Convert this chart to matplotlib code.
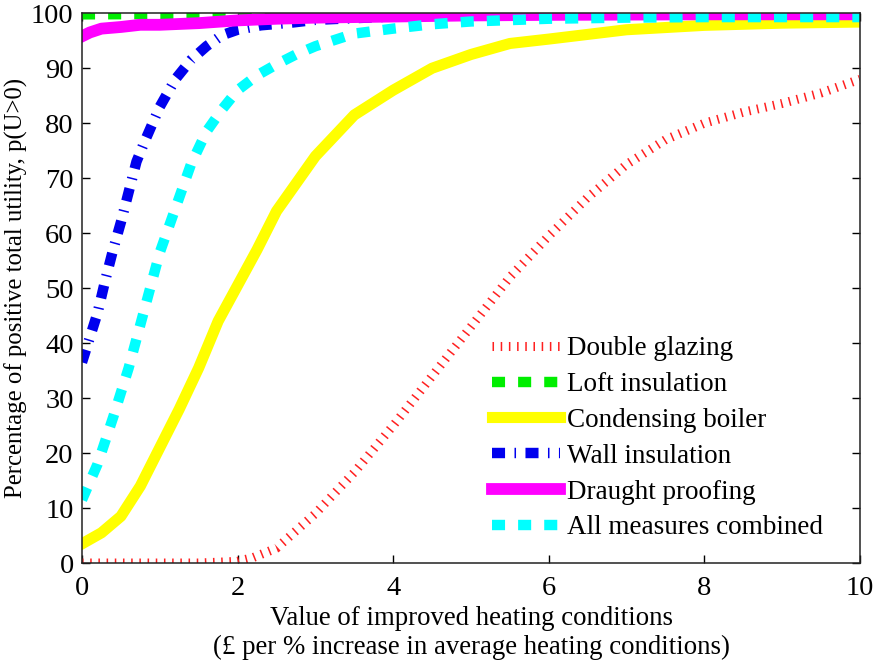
import numpy as np
import matplotlib
matplotlib.use("Agg")
import matplotlib.pyplot as plt

# fraction of households with positive total utility (%), per measure
dg_x = [0, 0.5, 1.0, 1.5, 2.0, 2.2, 2.5, 3.0, 3.5, 4.0, 4.5, 5.0, 5.5,
        6.0, 6.5, 7.0, 7.5, 8.0, 8.5, 9.0, 9.5, 10]
dg_y = [0, 0, 0, 0, 0.3, 1.0, 2.7, 9, 16.5, 25, 34, 43, 52,
        59.5, 66.5, 72.5, 77, 80, 82, 83.6, 85.5, 88]

loft_x = [0, 2, 4, 6, 8, 10]
loft_y = [99.8, 99.9, 99.9, 99.9, 99.9, 99.9]

boiler_x = [0, 0.25, 0.5, 0.75, 1.0, 1.25, 1.5, 1.75, 2.0, 2.25, 2.5, 2.75,
            3.0, 3.5, 4.0, 4.5, 5.0, 5.5, 6.0, 7.0, 8.0, 9.0, 10]
boiler_y = [3.5, 5.5, 8.5, 14, 21, 28, 35.5, 44, 50.5, 57, 64, 69,
            74, 81.5, 86, 90, 92.5, 94.5, 95.3, 97, 97.8, 98.2, 98.4]

wall_x = [0, 0.1, 0.2, 0.3, 0.4, 0.5, 0.6, 0.7, 0.8, 1.0, 1.2, 1.4, 1.6,
          1.8, 2.0, 2.3, 2.7, 3.0, 4.0, 5.0, 6.0, 8.0, 10]
wall_y = [36.5, 41, 45.5, 51.5, 57, 62, 67.5, 73, 76.5, 83, 88, 91.5, 94,
          96, 97, 97.8, 98.3, 98.8, 99.4, 99.7, 99.9, 100, 100]

draught_x = [0, 0.1, 0.25, 0.5, 0.75, 1, 1.5, 2, 2.5, 3, 4, 5, 6, 8, 10]
draught_y = [95.8, 96.5, 97.2, 97.5, 97.9, 97.9, 98.2, 98.7, 99.0, 99.2,
             99.4, 99.6, 99.7, 99.8, 99.8]

all_x = [0, 0.2, 0.4, 0.6, 0.8, 1.0, 1.2, 1.4, 1.6, 1.8, 2.0, 2.25, 2.5,
         2.75, 3.0, 3.5, 4.0, 4.5, 5.0, 6, 7, 8, 10]
all_y = [11.5, 18, 26.5, 35.5, 46, 56.5, 64.5, 72.5, 78.5, 82.5, 86, 88.7,
         90.7, 92.5, 94, 96.3, 97.2, 98, 98.5, 99, 99.2, 99.3, 99.3]

labels = ["Double glazing", "Loft insulation", "Condensing boiler",
          "Wall insulation", "Draught proofing", "All measures combined"]
x_ticks = [0, 2, 4, 6, 8, 10]
y_ticks = list(range(0, 101, 10))

plt.rcParams['font.family'] = ['Liberation Serif', 'DejaVu Serif']
plt.rcParams['lines.scale_dashes'] = False

fig = plt.figure(figsize=(8.78, 6.62), dpi=100)
ax = fig.add_axes([0.0934, 0.1495, 0.8861, 0.8305])

ax.plot(dg_x, dg_y, color='#ff2020', lw=6.5, dashes=(1.1, 4.8),
        dash_capstyle='butt', label=labels[0])
ax.plot(loft_x, loft_y, color='#00ee00', lw=7.5, dashes=(9.4, 9.4),
        dash_capstyle='butt', label=labels[1])
ax.plot(boiler_x, boiler_y, color='#ffff00', lw=8, label=labels[2])
ax.plot(wall_x, wall_y, color='#0000ee', lw=7.5, dashes=(9.4, 6.8, 1.1, 6.8),
        dash_capstyle='butt', label=labels[3])
ax.plot(draught_x, draught_y, color='#ff00ff', lw=8.5, label=labels[4])
ax.plot(all_x, all_y, color='#00ffff', lw=7.5, dashes=(9.4, 9.4),
        dash_capstyle='butt', label=labels[5])

ax.set_xlim(0, 10)
ax.set_ylim(0, 100)
ax.set_xticks(x_ticks)
ax.set_yticks(y_ticks)
ax.tick_params(direction='in', length=6, width=1, top=True, right=True,
               labelsize=20.5)
ax.tick_params(axis='x', pad=9)
ax.tick_params(axis='y', pad=6)
for sp in ax.spines.values():
    sp.set_linewidth(1.1)
    sp.set_color('#222222')

ax.set_xlabel("Value of improved heating conditions\n"
              "(£ per % increase in average heating conditions)",
              fontsize=19.3, linespacing=1.2, labelpad=4)
ax.set_ylabel("Percentage of positive total utility, p(U>0)",
              fontsize=17.8, labelpad=2)

ax.legend(loc='upper left', bbox_to_anchor=(0.527, 0.4125), frameon=False,
          handlelength=2.5, handletextpad=0.28, labelspacing=0.40,
          borderpad=0, borderaxespad=0, fontsize=19.5)

fig.savefig("out.png", dpi=100)
